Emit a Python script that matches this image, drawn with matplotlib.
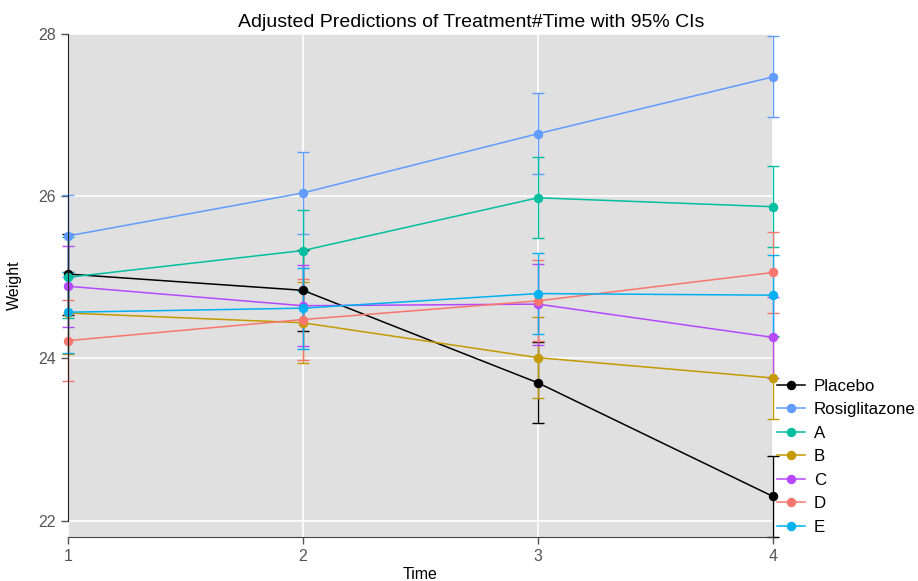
import numpy as np
import matplotlib
matplotlib.use("Agg")
import matplotlib.pyplot as plt

plt.rcParams['font.family'] = ['Liberation Sans', 'DejaVu Sans']

times = [1, 2, 3, 4]
groups = ['Placebo', 'Rosiglitazone', 'A', 'B', 'C', 'D', 'E']
colors = ['#000000', '#619CFF', '#00BFA0', '#C49A00', '#B449FF', '#F8766D', '#00B0F0']

placebo = [25.04, 24.84, 23.70, 22.30]
rosiglitazone = [25.51, 26.04, 26.77, 27.47]
grp_a = [25.00, 25.33, 25.98, 25.87]
grp_b = [24.56, 24.44, 24.01, 23.76]
grp_c = [24.89, 24.65, 24.67, 24.26]
grp_d = [24.22, 24.48, 24.71, 25.06]
grp_e = [24.57, 24.62, 24.80, 24.78]
ci_half = [0.50, 0.50, 0.50, 0.50]

series = [placebo, rosiglitazone, grp_a, grp_b, grp_c, grp_d, grp_e]

fig = plt.figure(figsize=(9.18, 5.81), dpi=100)
ax = fig.add_axes([0.074, 0.0757, 0.768, 0.866])
ax.set_facecolor('#E0E0E0')

for name, vals, col in zip(groups, series, colors):
    ax.errorbar(times, vals, yerr=ci_half, color=col, lw=1.1, marker='o',
                markersize=5.8, capsize=4, capthick=1.0, elinewidth=1.0,
                label=name, clip_on=False)

ax.set_xlim(1, 4)
ax.set_ylim(21.8, 28)
ax.set_xticks([1, 2, 3, 4])
ax.set_yticks([22, 24, 26, 28])
ax.grid(True, color='white', lw=1.2)
ax.set_axisbelow(True)

for s in ['top', 'right']:
    ax.spines[s].set_visible(False)
ax.spines['left'].set_bounds(22, 28)
ax.spines['left'].set_color('#222222')
ax.spines['bottom'].set_color('#444444')
ax.tick_params(colors='#555555', labelsize=11.5, length=5, width=1)
ax.tick_params(axis='both', labelcolor='#555555')

fig.text(0.513, 0.962, 'Adjusted Predictions of Treatment#Time with 95% CIs',
         fontsize=14, ha='center', va='center')
ax.set_xlabel('Time', fontsize=11.5, labelpad=2)
ax.set_ylabel('Weight', fontsize=11.5, labelpad=12)

handles = [plt.Line2D([], [], color=c, marker='o', markersize=5.8, lw=1.1) for c in colors]
fig.legend(handles, groups, loc='upper left', bbox_to_anchor=(0.846, 0.348),
           frameon=False, fontsize=12.2, labelspacing=0.5, handlelength=1.7,
           handletextpad=0.5, borderaxespad=0, borderpad=0)

fig.savefig('out.png', dpi=100)
